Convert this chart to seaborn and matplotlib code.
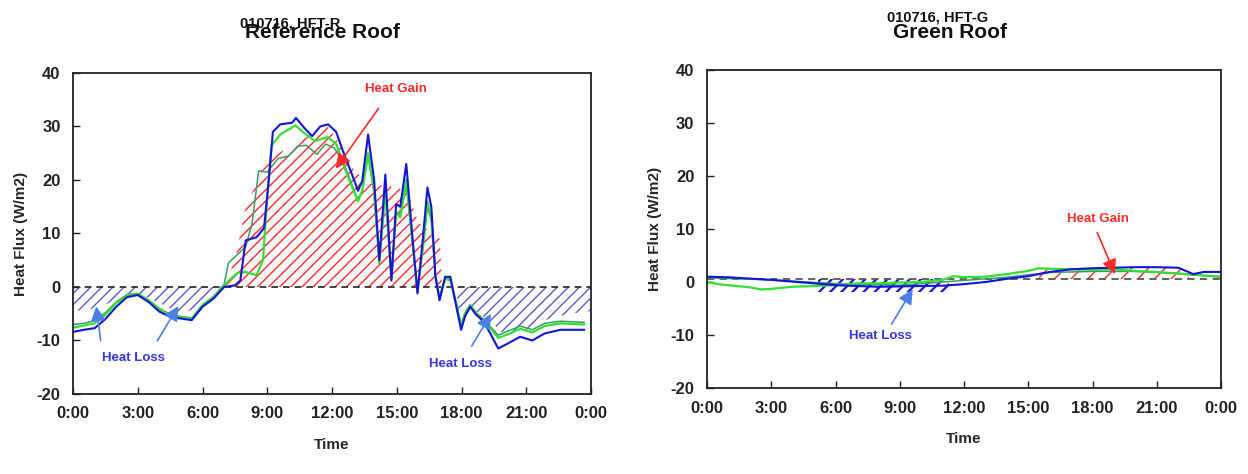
import numpy as np
import pandas as pd
import seaborn as sns
import matplotlib.pyplot as plt

# ---------------- data (hours, W/m2) ----------------
# Reference roof
ref_blue_t = [0, 0.5, 1, 1.5, 2, 2.5, 3, 3.5, 4, 4.5, 5, 5.5, 6, 6.5, 7, 7.5, 7.75, 8.0, 8.5, 8.85,
              9.07, 9.26, 9.6, 10.15, 10.33, 10.7, 11.08, 11.45, 11.82, 12.19, 12.56, 12.93, 13.2,
              13.4, 13.67, 13.95, 14.19, 14.47, 14.75, 14.97, 15.16, 15.44, 15.71, 15.96, 16.23,
              16.42, 16.6, 16.79, 16.98, 17.24, 17.48, 17.76, 17.98, 18.16, 18.4, 18.68, 18.96,
              19.24, 19.7, 20.17, 20.72, 21.28, 21.84, 22.58, 23.69]
ref_blue_v = [-8.4, -8.0, -7.7, -6.0, -3.7, -1.9, -1.5, -2.8, -4.6, -5.6, -5.9, -6.2, -3.7, -2.2, 0.0,
              0.3, 1.2, 8.7, 9.3, 11.0, 20.0, 29.0, 30.4, 30.7, 31.6, 29.8, 28.2, 30.0, 30.4, 29.0,
              24.8, 21.0, 18.0, 19.8, 28.5, 20.0, 5.0, 21.0, 1.2, 15.5, 15.0, 23.0, 10.0, -1.2, 10.0,
              18.6, 15.0, 2.0, -2.5, 1.9, 1.9, -3.7, -8.0, -5.5, -3.7, -5.2, -6.2, -8.0, -11.5,
              -10.5, -9.3, -10.0, -8.7, -8.0, -8.0]

ref_green_t = [0, 0.5, 1, 1.5, 2, 2.5, 3, 3.5, 4, 4.5, 5, 5.5, 6, 6.5, 7, 7.3, 7.6, 8.0, 8.5, 8.8,
               9.0, 9.2, 9.6, 10.3, 10.7, 11.2, 11.8, 12.2, 12.7, 13.2, 13.4, 13.67, 13.95, 14.19,
               14.47, 14.75, 14.97, 15.16, 15.44, 15.71, 15.96, 16.23, 16.42, 16.6, 16.79, 16.98,
               17.24, 17.48, 17.76, 17.98, 18.16, 18.4, 18.68, 18.96, 19.24, 19.7, 20.17, 20.72,
               21.28, 21.84, 22.58, 23.69]
ref_green_v = [-7.6, -7.2, -6.8, -5.2, -3.0, -1.6, -1.3, -2.5, -4.2, -5.3, -5.6, -6.0, -3.5, -2.0, 0.3,
               1.5, 2.6, 2.8, 2.2, 5.0, 17.0, 26.5, 28.5, 30.2, 28.8, 27.3, 28.0, 26.7, 21.0, 16.0,
               18.0, 25.0, 18.0, 4.5, 18.0, 1.5, 14.0, 13.0, 20.0, 9.0, -0.8, 8.0, 16.0, 13.0, 2.0,
               -2.0, 1.5, 1.5, -3.3, -7.5, -5.0, -3.5, -5.0, -6.0, -7.2, -9.5, -8.8, -7.8, -8.5,
               -7.3, -6.8, -7.0]

ref_dkgreen_t = [0, 0.5, 1, 1.5, 2, 2.5, 3, 3.5, 4, 4.5, 5, 5.5, 6, 6.5, 7, 7.2, 7.6, 8.0, 8.3, 8.6,
                 9.0, 9.5, 10.0, 10.4, 10.8, 11.3, 11.7, 12.1, 12.5, 12.8, 13.2, 13.4, 13.67, 13.95,
                 14.19, 14.47, 14.75, 14.97, 15.16, 15.44, 15.71, 15.96, 16.23, 16.42, 16.6, 16.79,
                 16.98, 17.24, 17.48, 17.76, 17.98, 18.16, 18.4, 18.68, 18.96, 19.24, 19.7, 20.17,
                 20.72, 21.28, 21.84, 22.58, 23.69]
ref_dkgreen_v = [-7.0, -6.8, -6.3, -4.8, -2.8, -1.4, -1.2, -2.4, -4.0, -5.1, -5.5, -5.8, -3.3, -1.8,
                 0.5, 4.5, 6.0, 7.5, 12.0, 21.7, 21.5, 24.0, 24.5, 26.3, 26.5, 24.8, 26.7, 26.0, 23.5,
                 20.5, 16.2, 18.0, 24.5, 17.5, 4.5, 17.5, 1.5, 14.0, 13.5, 19.0, 9.0, -0.5, 8.0, 15.0,
                 12.5, 2.0, -1.8, 1.5, 1.2, -3.0, -7.0, -4.8, -3.3, -4.8, -5.8, -7.0, -9.0, -8.2,
                 -7.3, -8.0, -6.8, -6.4, -6.6]

# hand drawn hatch regions (reference roof)
ref_gain_t = [7.0, 7.5, 8.0, 9.0, 10.0, 11.0, 11.8, 12.3, 13.0, 13.5, 14.0, 14.5, 15.5, 16.0, 17.0, 17.1]
ref_gain_top = [0.0, 5.0, 15.0, 24.0, 26.0, 28.5, 30.0, 27.0, 22.0, 20.0, 19.0, 19.0, 18.0, 12.0, 9.0, 0.0]
ref_loss1_t = [0, 1, 2, 3, 4, 5, 6, 7]
ref_loss1_bot = [-4.5, -4.0, -2.5, -1.2, -3.0, -5.0, -3.5, 0.0]
ref_loss2_t = [17.8, 18.5, 19.0, 19.5, 20.0, 21.0, 22.0, 23.0, 24.0]
ref_loss2_bot = [-4.5, -4.0, -5.5, -7.0, -9.0, -8.0, -6.0, -5.0, -4.5]

# Green roof
grn_blue_t = [0, 1, 3, 5, 6, 8, 10, 11, 12, 13, 14, 15, 16, 17, 18, 19, 20, 21, 22, 22.7, 23.2, 24]
grn_blue_v = [1.0, 0.9, 0.4, -0.25, -0.6, -0.9, -0.75, -0.7, -0.4, 0.0, 0.6, 1.1, 1.9, 2.4, 2.6,
              2.7, 2.8, 2.8, 2.7, 1.5, 1.9, 1.9]
grn_green_t = [0, 0.5, 1, 2, 2.5, 3, 4, 5, 6, 7, 8, 9, 10, 11, 11.5, 12, 13, 14, 15, 15.5, 16,
               17, 18, 19, 20, 21, 22, 23, 24]
grn_green_v = [0.05, -0.4, -0.6, -1.0, -1.4, -1.3, -0.9, -0.75, -0.6, -0.25, -0.25, -0.1, 0.0, 0.4,
               1.1, 0.9, 1.0, 1.5, 2.1, 2.6, 2.5, 2.4, 2.3, 2.4, 2.1, 1.9, 1.6, 1.3, 1.0]
grn_dkgreen_t = [0, 3, 6, 9, 12, 14, 16, 18, 20, 22, 24]
grn_dkgreen_v = [0.8, 0.4, -0.3, -0.6, 0.3, 0.9, 1.8, 2.0, 2.0, 1.6, 0.9]

grn_loss_t = [5.2, 11.3]
grn_loss_bot = [-1.9, -1.9]
grn_gain_t = [15.5, 22.5]
grn_gain_top = [2.6, 2.6]

xticks_h = [0, 3, 6, 9, 12, 15, 18, 21, 24]
xtick_labels = ["0:00", "3:00", "6:00", "9:00", "12:00", "15:00", "18:00", "21:00", "0:00"]

# ---------------- style ----------------
sns.set_style("white")
plt.rcParams['font.family'] = ['Liberation Sans', 'DejaVu Sans']
plt.rcParams['font.weight'] = 'bold'
plt.rcParams['hatch.linewidth'] = 1.0
plt.rcParams['axes.unicode_minus'] = False

BLUE = "#1414d8"
GREEN = "#33e033"
DKGREEN = "#3c9a64"
RED = "#ff2a2a"
HATCH_BLUE = "#5a5ad0"
TXT_BLUE = "#3535e6"
ARROW_BLUE = "#4d7fe8"

fig = plt.figure(figsize=(12.48, 4.74), dpi=100)
ax1 = fig.add_axes([0.0585, 0.1688, 0.4151, 0.6772])
ax2 = fig.add_axes([0.5665, 0.1814, 0.4119, 0.6709])


def draw_lines(ax, tb, vb, tg, vg, td, vd):
    sns.lineplot(x=td, y=vd, ax=ax, color=DKGREEN, lw=1.1, sort=False)
    sns.lineplot(x=tg, y=vg, ax=ax, color=GREEN, lw=1.6, sort=False)
    sns.lineplot(x=tb, y=vb, ax=ax, color=BLUE, lw=1.5, sort=False)


def style_axes(ax):
    ax.set_xlim(0, 24)
    ax.set_ylim(-20, 40)
    ax.set_xticks(xticks_h)
    ax.set_xticklabels(xtick_labels)
    ax.set_yticks([-20, -10, 0, 10, 20, 30, 40])
    ax.tick_params(axis='both', direction='in', length=5, width=1, labelsize=12, pad=9,
                   bottom=True, left=True, colors='#222222')
    for lab in ax.get_xticklabels() + ax.get_yticklabels():
        lab.set_fontweight('bold')
    for s in ax.spines.values():
        s.set_color('#222222')
        s.set_linewidth(1.3)
    ax.set_xlabel("Time", fontsize=11, fontweight='bold', labelpad=12)
    ax.set_ylabel("Heat Flux (W/m2)", fontsize=11, fontweight='bold', labelpad=6)


# ---------------- Reference roof ----------------
ax1.fill_between(ref_gain_t, 0, ref_gain_top, facecolor='none', edgecolor=RED, hatch='///', lw=0)
ax1.fill_between(ref_loss1_t, ref_loss1_bot, 0, facecolor='none', edgecolor=HATCH_BLUE, hatch='///', lw=0)
ax1.fill_between(ref_loss2_t, ref_loss2_bot, 0, facecolor='none', edgecolor=HATCH_BLUE, hatch='///', lw=0)
ax1.axhline(0, color='#222222', ls='--', lw=1.2, dashes=(4, 3))
draw_lines(ax1, ref_blue_t, ref_blue_v, ref_green_t, ref_green_v, ref_dkgreen_t, ref_dkgreen_v)
style_axes(ax1)

ax1.annotate("", xy=(12.1, 21.7), xytext=(14.23, 33.8),
             arrowprops=dict(arrowstyle='-|>', color=RED, lw=1.2, mutation_scale=22))
ax1.text(14.97, 37.1, "Heat Gain", color=RED, fontsize=9.5, fontweight='bold', ha='center', va='center')
for (x0, y0, x1, y1) in [(1.3, -10.5, 1.06, -3.1), (3.84, -10.5, 4.95, -3.1), (18.4, -11.5, 19.43, -4.6)]:
    ax1.annotate("", xy=(x1, y1), xytext=(x0, y0),
                 arrowprops=dict(arrowstyle='-|>', color=ARROW_BLUE, lw=1.2, mutation_scale=22))
ax1.text(2.82, -13.3, "Heat Loss", color=TXT_BLUE, fontsize=9.5, fontweight='bold', ha='center', va='center')
ax1.text(17.94, -14.4, "Heat Loss", color=TXT_BLUE, fontsize=9.5, fontweight='bold', ha='center', va='center')

# ---------------- Green roof ----------------
ax2.fill_between(grn_gain_t, 0.5, grn_gain_top, facecolor='none', edgecolor=RED, hatch='//', lw=0)
plt.rcParams['hatch.linewidth'] = 1.6
ax2.fill_between(grn_loss_t, grn_loss_bot, 0.5, facecolor='none', edgecolor=BLUE, hatch='///', lw=0)
ax2.axhline(0.5, color='#555555', ls='--', lw=1.3, dashes=(4, 3))
draw_lines(ax2, grn_blue_t, grn_blue_v, grn_green_t, grn_green_v, grn_dkgreen_t, grn_dkgreen_v)
style_axes(ax2)

ax2.annotate("", xy=(19.1, 1.0), xytext=(18.17, 9.8),
             arrowprops=dict(arrowstyle='-|>', color=RED, lw=1.2, mutation_scale=22))
ax2.text(18.27, 11.8, "Heat Gain", color=RED, fontsize=9.5, fontweight='bold', ha='center', va='center')
ax2.annotate("", xy=(9.67, -0.9), xytext=(8.55, -8.4),
             arrowprops=dict(arrowstyle='-|>', color=ARROW_BLUE, lw=1.2, mutation_scale=22))
ax2.text(8.09, -10.1, "Heat Loss", color=TXT_BLUE, fontsize=9.5, fontweight='bold', ha='center', va='center')

# ---------------- titles (overlapping, as in the source) ----------------
fig.text(322 / 1248, 1 - 32 / 474, "Reference Roof", fontsize=15, fontweight='bold',
         ha='center', va='center', color='#111111')
fig.text(290 / 1248, 1 - 24 / 474, "010716, HFT-R", fontsize=10.5, fontweight='bold',
         ha='center', va='center', color='#111111')
fig.text(950 / 1248, 1 - 32 / 474, "Green Roof", fontsize=15, fontweight='bold',
         ha='center', va='center', color='#111111')
fig.text(938 / 1248, 1 - 18 / 474, "010716, HFT-G", fontsize=10.5, fontweight='bold',
         ha='center', va='center', color='#111111')

fig.savefig("out.png", dpi=100)
